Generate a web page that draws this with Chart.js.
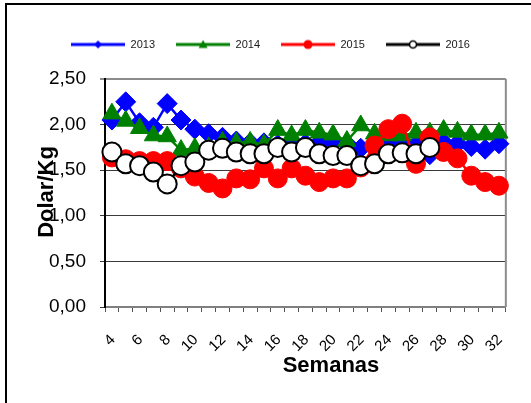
<!DOCTYPE html>
<html>
<head>
<meta charset="utf-8">
<script src="https://cdn.jsdelivr.net/npm/chart.js@4.4.1/dist/chart.umd.min.js"></script>
<style>
  html, body { margin: 0; padding: 0; background: #fff; }
  #wrap { width: 531px; height: 403px; position: relative; }
</style>
</head>
<body>
<div id="wrap"><canvas id="chart" width="531" height="403"></canvas></div>
<script>
// semanas
const weeks = ['4','5','6','7','8','9','10','11','12','13','14','15','16','17','18','19','20',
               '21','22','23','24','25','26','27','28','29','30','31','32'];

// precios, dolar/kg
const v2013 = [2.05, 2.25, 2.02, 1.97, 2.23, 2.05, 1.95, 1.90, 1.86, 1.82, 1.80, 1.80, 1.78, 1.80, 1.79,
               1.80, 1.80, 1.79, 1.74, 1.78, 1.80, 1.80, 1.78, 1.67, 1.80, 1.79, 1.76, 1.73, 1.79];
const v2014 = [2.12, 2.04, 1.96, 1.88, 1.87, 1.72, 1.74, 1.75, 1.81, 1.80, 1.81, 1.78, 1.94, 1.88, 1.94,
               1.91, 1.89, 1.82, 1.99, 1.90, 1.88, 1.88, 1.91, 1.91, 1.94, 1.92, 1.89, 1.89, 1.91];
const v2015 = [1.64, 1.62, 1.60, 1.60, 1.60, 1.52, 1.43, 1.36, 1.30, 1.41, 1.40, 1.52, 1.41, 1.52, 1.44,
               1.37, 1.41, 1.41, 1.53, 1.77, 1.95, 2.01, 1.57, 1.86, 1.70, 1.63, 1.44, 1.37, 1.33];
const v2016 = [1.70, 1.57, 1.55, 1.48, 1.35, 1.55, 1.59, 1.72, 1.74, 1.70, 1.68, 1.68, 1.75, 1.70, 1.75,
               1.68, 1.66, 1.66, 1.55, 1.57, 1.68, 1.69, 1.68, 1.75];

const yTicks = [0, 0.5, 1, 1.5, 2, 2.5];

const FONT = '"Liberation Sans", Arial, sans-serif';

// iconos de la leyenda: linea con marcador en el medio
function legendIcon(color, shape, fill) {
    const c = document.createElement('canvas');
    c.width = 54; c.height = 12;
    const g = c.getContext('2d');
    g.strokeStyle = color;
    g.lineWidth = 3;
    g.beginPath(); g.moveTo(0, 6); g.lineTo(54, 6); g.stroke();
    g.fillStyle = fill || color;
    g.beginPath();
    if (shape === 'diamond') {
        g.moveTo(27, 2); g.lineTo(31, 6); g.lineTo(27, 10); g.lineTo(23, 6);
    } else if (shape === 'triangle') {
        g.moveTo(27, 1.5); g.lineTo(31.5, 9.5); g.lineTo(22.5, 9.5);
    } else {
        g.arc(27, 6, shape === 'ring' ? 3.5 : 4.5, 0, Math.PI * 2);
    }
    g.closePath();
    g.fill();
    if (shape === 'ring') { g.lineWidth = 1.6; g.strokeStyle = '#000'; g.stroke(); }
    return c;
}
const icons = [
    legendIcon('#0000ff', 'diamond'),
    legendIcon('#008000', 'triangle'),
    legendIcon('#ff0000', 'circle'),
    legendIcon('#000000', 'ring', '#ffffff')
];

// marco negro exterior + borde del area de trazado
const frame = {
    id: 'frame',
    beforeDraw(chart) {
        const ctx = chart.ctx;
        ctx.save();
        ctx.fillStyle = '#000';
        ctx.fillRect(5, 3, 526, 2);
        ctx.fillRect(5, 3, 2, 400);
        ctx.restore();
    },
    beforeDatasetsDraw(chart) {
        const {ctx, chartArea} = chart;
        ctx.save();
        ctx.strokeStyle = '#8c8c8c';
        ctx.lineWidth = 2;
        ctx.beginPath();
        ctx.moveTo(chartArea.right, chartArea.top);
        ctx.lineTo(chartArea.right, chartArea.bottom);
        ctx.stroke();
        ctx.restore();
    }
};

// titulos de ejes (en el original el de Y pisa las etiquetas)
const axisTitles = {
    id: 'axisTitles',
    afterDraw(chart) {
        const ctx = chart.ctx;
        ctx.save();
        ctx.font = 'bold 22px ' + FONT;
        ctx.fillStyle = '#000';
        ctx.textAlign = 'center';
        ctx.textBaseline = 'middle';
        ctx.fillText('Semanas', 331, 366);
        ctx.translate(47, 192);
        ctx.rotate(-Math.PI / 2);
        ctx.fillText('Dolar/Kg', 0, 0);
        ctx.restore();
    }
};

// altura fija para la leyenda y un poco corrida a la derecha
const legendSpace = {
    id: 'legendSpace',
    beforeLayout(chart) {
        const lg = chart.legend;
        if (lg && !lg._patched) {
            const fit = lg.fit;
            lg.fit = function () { fit.call(this); this.height = 61; };
            lg._patched = true;
        }
    },
    afterLayout(chart) {
        const lg = chart.legend;
        if (lg) { lg.left += 15; lg.right += 15; }
    }
};

const ctx = document.getElementById('chart').getContext('2d');

const myChart = new Chart(ctx, {
    type: 'line',
    data: {
        labels: weeks,
        datasets: [{
            label: '2013',
            data: v2013,
            borderColor: '#0000ff',
            backgroundColor: '#0000ff',
            borderWidth: 2.5,
            pointStyle: 'rectRot',
            pointRadius: 10,
            pointBorderWidth: 1,
            order: 4
        }, {
            label: '2014',
            data: v2014,
            borderColor: '#008000',
            backgroundColor: '#008000',
            borderWidth: 2.5,
            pointStyle: 'triangle',
            pointRadius: 10.5,
            pointBorderWidth: 1,
            order: 3
        }, {
            label: '2015',
            data: v2015,
            borderColor: '#ff0000',
            backgroundColor: '#ff0000',
            borderWidth: 2.5,
            pointStyle: 'circle',
            pointRadius: 9.5,
            pointBorderWidth: 1,
            order: 2
        }, {
            label: '2016',
            data: v2016,
            borderColor: '#000000',
            backgroundColor: '#ffffff',
            borderWidth: 2.5,
            pointStyle: 'circle',
            pointRadius: 9.5,
            pointBorderWidth: 2,
            order: 1
        }]
    },
    options: {
        responsive: false,
        animation: false,
        clip: false,
        layout: { padding: { top: 18, right: 20, left: 0, bottom: 0 } },
        plugins: {
            tooltip: { enabled: false },
            legend: {
                display: true,
                position: 'top',
                labels: {
                    usePointStyle: true,
                    pointStyleWidth: 54,
                    padding: 21,
                    color: '#1a1a1a',
                    font: { family: FONT, size: 11 },
                    sort: (a, b) => a.datasetIndex - b.datasetIndex,
                    generateLabels(chart) {
                        const items = Chart.defaults.plugins.legend.labels.generateLabels(chart);
                        items.forEach(it => { it.pointStyle = icons[it.datasetIndex]; });
                        return items;
                    }
                }
            }
        },
        scales: {
            x: {
                offset: true,
                grid: {
                    offset: true,
                    drawOnChartArea: false,
                    color: '#555',
                    tickLength: 5
                },
                border: { color: '#808080', width: 2 },
                ticks: {
                    autoSkip: false,
                    minRotation: 45,
                    maxRotation: 45,
                    padding: 19,
                    labelOffset: 1,
                    color: '#000',
                    font: { family: FONT, size: 15 },
                    callback: (v, i) => (i % 2 === 0 ? weeks[i] : '')
                },
                afterFit: s => { s.height = 96; }
            },
            y: {
                min: 0,
                max: 2.5,
                afterBuildTicks: s => { s.ticks = yTicks.map(v => ({ value: v })); },
                grid: {
                    color: c => (c.tick && c.tick.value === 2.5 ? '#8c8c8c' : '#3a3a3a'),
                    lineWidth: c => (c.tick && c.tick.value === 2.5 ? 2 : 1),
                    tickLength: 5
                },
                border: { color: '#000', width: 2 },
                ticks: {
                    padding: 14,
                    color: '#000',
                    font: { family: FONT, size: 19 },
                    callback: v => v.toFixed(2).replace('.', ',')
                },
                afterFit: s => { s.width = 105; }
            }
        }
    },
    plugins: [frame, axisTitles, legendSpace]
});
</script>
</body>
</html>
